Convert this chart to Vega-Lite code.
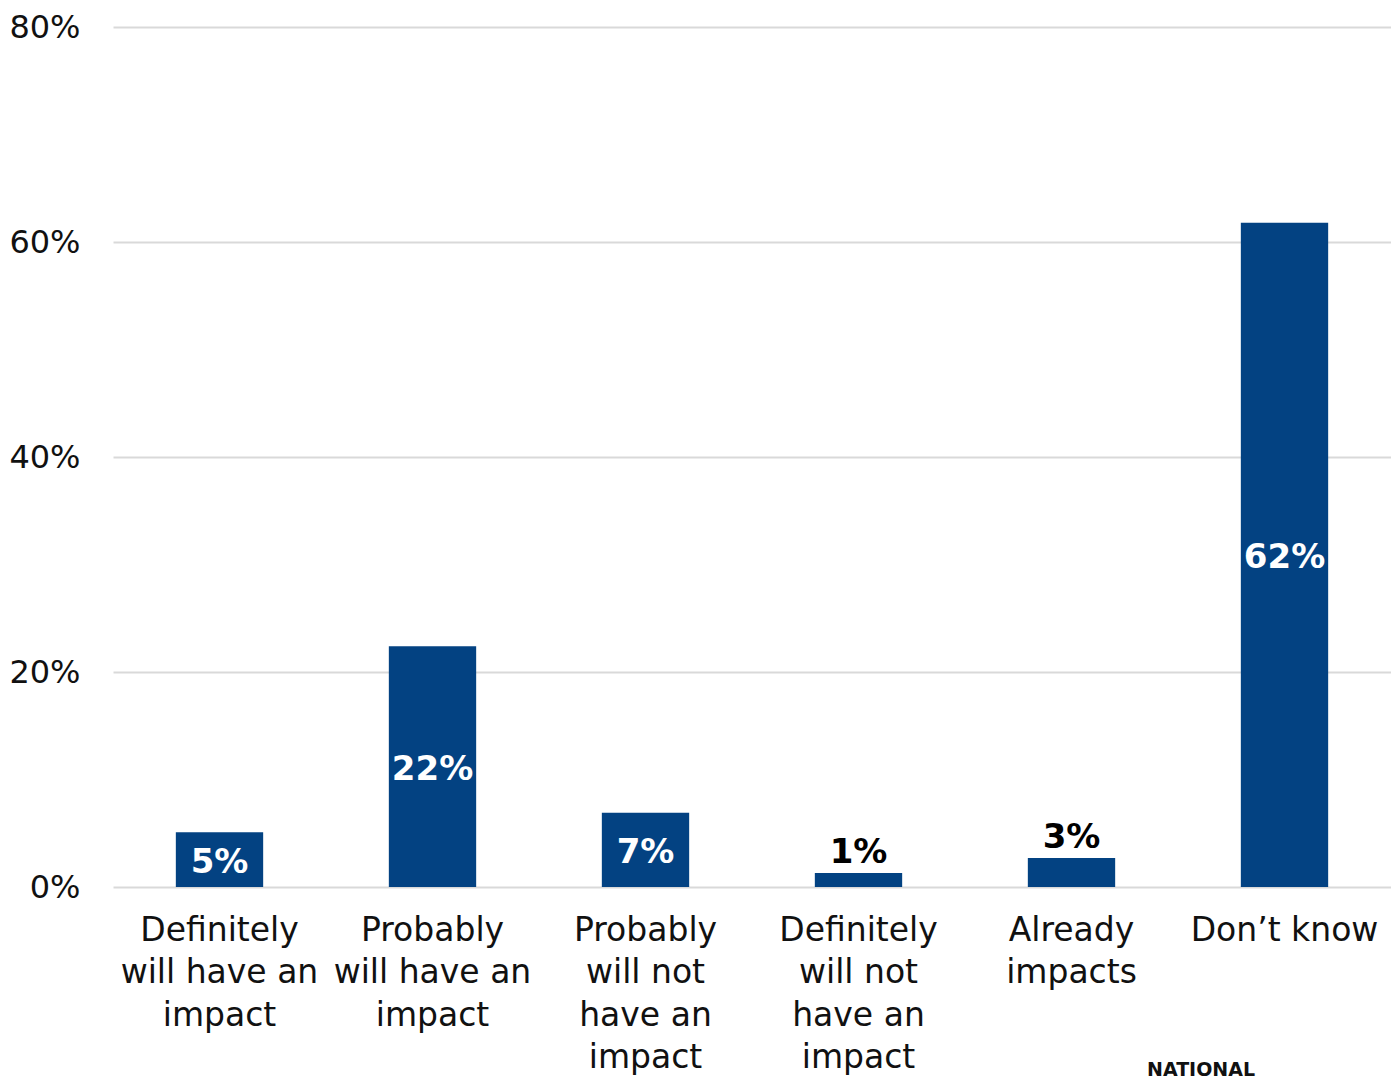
{
  "$schema": "https://vega.github.io/schema/vega-lite/v6.json",
  "autosize": "none",
  "padding": {"left": 113, "top": 27, "right": 0, "bottom": 189},
  "width": 1278,
  "height": 860,
  "background": "white",
  "config": {
    "view": {"stroke": null},
    "font": "DejaVu Sans"
  },
  "title": {
    "text": "NATIONAL",
    "orient": "bottom",
    "anchor": "start",
    "frame": "group",
    "font": "DejaVu Sans",
    "fontWeight": "bold",
    "fontSize": 19,
    "color": "#111111",
    "dx": 1034,
    "dy": -14,
    "offset": 0
  },
  "data": {
    "values": [
      {"answer": "Definitely|will have an|impact", "value": 0.051},
      {"answer": "Probably|will have an|impact", "value": 0.224},
      {"answer": "Probably|will not|have an|impact", "value": 0.069},
      {"answer": "Definitely|will not|have an|impact", "value": 0.013},
      {"answer": "Already|impacts", "value": 0.027},
      {"answer": "Don’t know", "value": 0.618}
    ]
  },
  "transform": [{"calculate": "datum.value / 2", "as": "mid"}],
  "encoding": {
    "x": {
      "field": "answer",
      "type": "nominal",
      "sort": null,
      "scale": {"paddingInner": 0.59, "paddingOuter": 0.295},
      "axis": {
        "title": null,
        "domain": false,
        "ticks": false,
        "labelAngle": 0,
        "labelExpr": "split(datum.value, '|')",
        "labelFont": "DejaVu Sans",
        "labelFontSize": 33,
        "labelColor": "#111111",
        "labelLineHeight": 42.5,
        "labelPadding": 27,
        "labelBaseline": "top",
        "labelLimit": 400
      }
    }
  },
  "layer": [
    {
      "mark": {"type": "bar", "color": "#034282"},
      "encoding": {
        "y": {
          "field": "value",
          "type": "quantitative",
          "scale": {"domain": [0, 0.8]},
          "axis": {
            "title": null,
            "format": ".0%",
            "values": [0, 0.2, 0.4, 0.6, 0.8],
            "domain": false,
            "ticks": false,
            "labelPadding": 33,
            "labelFont": "DejaVu Sans",
            "labelFontSize": 32,
            "labelColor": "#111111",
            "gridColor": "#d9d9d9",
            "gridWidth": 2
          }
        }
      }
    },
    {
      "transform": [{"filter": "datum.value >= 0.04"}],
      "mark": {"type": "text", "color": "white", "fontWeight": "bold", "fontSize": 34, "baseline": "middle", "dy": 3, "font": "DejaVu Sans"},
      "encoding": {
        "y": {"field": "mid", "type": "quantitative"},
        "text": {"field": "value", "type": "quantitative", "format": ".0%"}
      }
    },
    {
      "transform": [{"filter": "datum.value < 0.04"}],
      "mark": {"type": "text", "color": "black", "fontWeight": "bold", "fontSize": 34, "baseline": "alphabetic", "dy": -10, "font": "DejaVu Sans"},
      "encoding": {
        "y": {"field": "value", "type": "quantitative"},
        "text": {"field": "value", "type": "quantitative", "format": ".0%"}
      }
    }
  ]
}
